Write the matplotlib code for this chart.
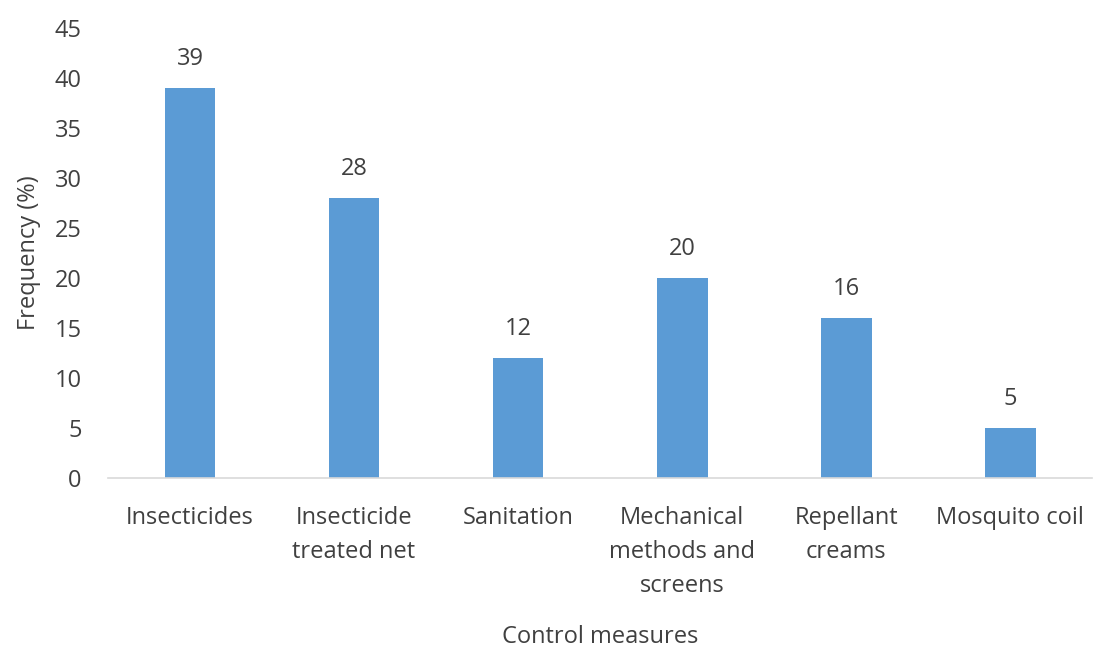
import matplotlib
matplotlib.use("Agg")
import matplotlib.pyplot as plt
import numpy as np

# ── data ──────────────────────────────────────────────────────────────────────
CATEGORIES = ["Insecticides", "Insecticide\ntreated net", "Sanitation",
              "Mechanical\nmethods and\nscreens", "Repellant\ncreams", "Mosquito coil"]
FREQUENCY = [39, 28, 12, 20, 16, 5]
Y_TICKS = [0, 5, 10, 15, 20, 25, 30, 35, 40, 45]

BAR_COLOR = "#5B9BD5"
TEXT_COLOR = "#404040"
FS = 17

plt.rcParams["font.family"] = ["Open Sans", "DejaVu Sans"]

fig = plt.figure(figsize=(10.96, 6.5), dpi=100)
ax = fig.add_axes([0.0985, 0.2646, 0.898, 0.6924])

x = np.arange(len(CATEGORIES))
bars = ax.bar(x, FREQUENCY, width=0.31, color=BAR_COLOR)

# value labels above bars
for bar, val in zip(bars, FREQUENCY):
    ax.text(bar.get_x() + bar.get_width() / 2.0, val + 1.7, str(val),
            ha="center", va="bottom", fontsize=FS, color=TEXT_COLOR)

ax.set_xlim(-0.5, len(CATEGORIES) - 0.5)
ax.set_ylim(0, 45)
ax.set_yticks(Y_TICKS)
ax.set_xticks(x)
ax.set_xticklabels(CATEGORIES, linespacing=1.55)

for side in ["top", "right", "left"]:
    ax.spines[side].set_visible(False)
ax.spines["bottom"].set_color("#D9D9D9")
ax.spines["bottom"].set_linewidth(1.2)

ax.tick_params(axis="both", length=0, labelsize=FS, colors=TEXT_COLOR)
ax.tick_params(axis="y", pad=19)
ax.tick_params(axis="x", pad=20)

ax.set_xlabel("Control measures", fontsize=FS, color=TEXT_COLOR, labelpad=20)
ax.set_ylabel("Frequency (%)", fontsize=FS, color=TEXT_COLOR, labelpad=10)

fig.savefig("out.png", dpi=100)
